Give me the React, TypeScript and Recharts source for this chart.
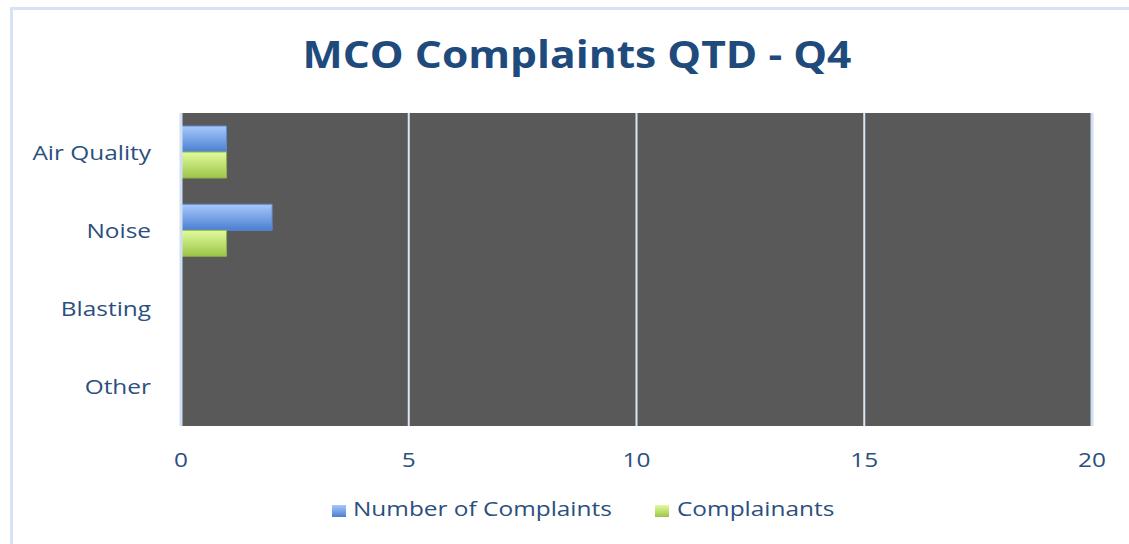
import React from 'react'
import {
  BarChart,
  Bar,
  XAxis,
  YAxis,
  CartesianGrid,
  ReferenceLine,
} from 'recharts'

// カテゴリと系列データ
const categories = ['Air Quality', 'Noise', 'Blasting', 'Other']
const numberOfComplaints = [1, 2, 0, 0]
const complainants = [1, 1, 0, 0]
const xTicks = [0, 5, 10, 15, 20]

const data = categories.map((name, i) => ({
  name,
  complaints: numberOfComplaints[i],
  complainants: complainants[i],
}))

const TEXT_COLOR = '#2b4f7e'
const FONT = '"Open Sans", "Noto Sans", sans-serif'
const STRETCH = 1.22

// 横に引き伸ばしたティックラベル
const StretchedTick = ({ x, y, payload, textAnchor, dx = 0, dy = 0 }: any) => (
  <text
    transform={`translate(${x + dx},${y + dy}) scale(${STRETCH},1)`}
    textAnchor={textAnchor}
    dominantBaseline="central"
    fill={TEXT_COLOR}
    fontSize={20}
    fontFamily={FONT}
  >
    {payload.value}
  </text>
)

const App: React.FC = () => {
  const legendText: React.CSSProperties = {
    position: 'absolute',
    top: 495,
    fontSize: 20,
    color: TEXT_COLOR,
    whiteSpace: 'nowrap',
    transform: `scaleX(${STRETCH})`,
    transformOrigin: 'left center',
  }
  const swatch: React.CSSProperties = {
    position: 'absolute',
    top: 505,
    width: 14,
    height: 12,
  }

  return (
    <div
      style={{
        position: 'absolute',
        left: 0,
        top: 0,
        width: 1129,
        height: 544,
        background: '#fff',
        fontFamily: FONT,
        overflow: 'hidden',
      }}
    >
      {/* 枠線 */}
      <div
        style={{
          position: 'absolute',
          left: 10,
          top: 7,
          width: 1140,
          height: 560,
          borderLeft: '3px solid #d6e3f4',
          borderTop: '3px solid #d6e3f4',
        }}
      />
      <div
        style={{
          position: 'absolute',
          left: 0,
          top: 27,
          width: 1154,
          textAlign: 'center',
          fontSize: 38,
          fontWeight: 700,
          color: '#1f4a7c',
          transform: 'scaleX(1.12)',
          transformOrigin: '577px center',
        }}
      >
        MCO Complaints QTD - Q4
      </div>

      <div style={{ position: 'absolute', left: 0, top: 0 }}>
        <BarChart
          width={1129}
          height={544}
          data={data}
          layout="vertical"
          margin={{ top: 113, right: 37, bottom: 88, left: 0 }}
          barGap={0}
          barSize={26}
        >
          <defs>
            <linearGradient id="gradBlue" x1="0" y1="0" x2="0" y2="1">
              <stop offset="0%" stopColor="#a7c8fb" />
              <stop offset="100%" stopColor="#4b7fd2" />
            </linearGradient>
            <linearGradient id="gradGreen" x1="0" y1="0" x2="0" y2="1">
              <stop offset="0%" stopColor="#e2fb9e" />
              <stop offset="100%" stopColor="#9cc548" />
            </linearGradient>
          </defs>
          <CartesianGrid
            horizontal={false}
            fill="#595959"
            stroke="#dce7f5"
            strokeWidth={2}
          />
          <XAxis
            type="number"
            domain={[0, 20]}
            ticks={xTicks}
            axisLine={false}
            tickLine={false}
            height={30}
            tick={<StretchedTick dy={25} />}
          />
          <YAxis
            type="category"
            dataKey="name"
            width={181}
            axisLine={{ stroke: '#d0dff3', strokeWidth: 3 }}
            tickLine={false}
            tick={<StretchedTick dx={-22} />}
          />
          <ReferenceLine x={20} stroke="#d0dff3" strokeWidth={3} />
          <Bar
            dataKey="complaints"
            name="Number of Complaints"
            fill="url(#gradBlue)"
            stroke="#5d8ad0"
            strokeWidth={1}
            isAnimationActive={false}
          />
          <Bar
            dataKey="complainants"
            name="Complainants"
            fill="url(#gradGreen)"
            stroke="#8fb24a"
            strokeWidth={1}
            isAnimationActive={false}
          />
        </BarChart>
      </div>

      {/* 凡例 */}
      <span style={{ ...swatch, left: 332, background: 'linear-gradient(#a7c8fb, #4b7fd2)' }} />
      <span style={{ ...legendText, left: 353 }}>Number of Complaints</span>
      <span style={{ ...swatch, left: 655, background: 'linear-gradient(#e2fb9e, #9cc548)' }} />
      <span style={{ ...legendText, left: 677 }}>Complainants</span>
    </div>
  )
}

export default App
